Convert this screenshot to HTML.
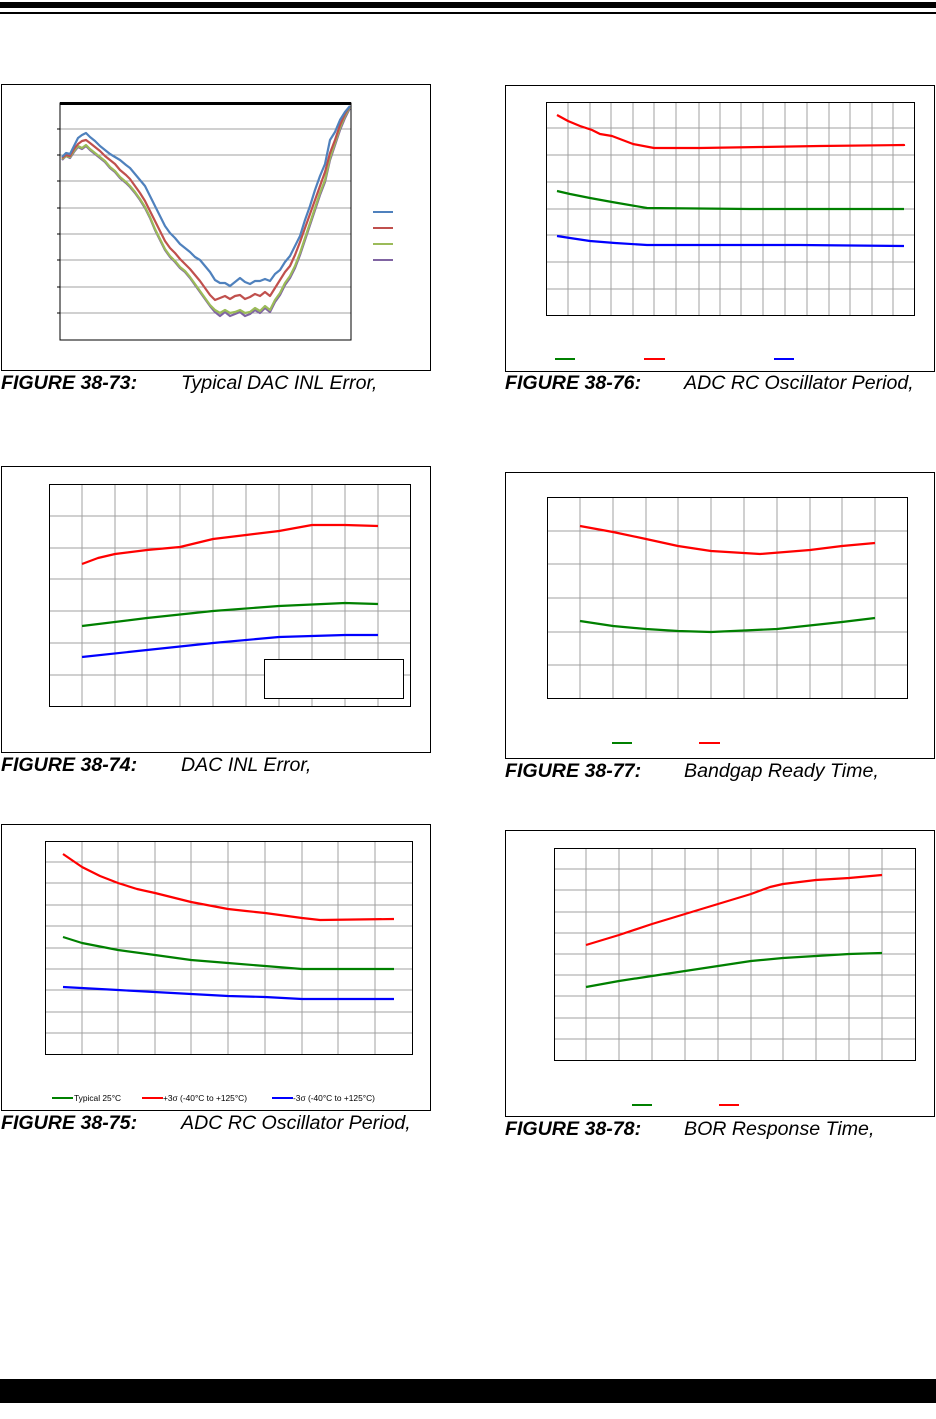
<!DOCTYPE html>
<html><head><meta charset="utf-8"><style>
html,body{margin:0;padding:0;background:#fff;}
svg{display:block;}
.cap{font-family:"Liberation Sans",Arial,sans-serif;font-size:19.6px;font-style:italic;}
.b{font-weight:bold;}
.g{stroke:#a0a0a0;stroke-width:1;}
.pl{fill:none;stroke-width:2.2;stroke-linejoin:round;}
</style></head><body>
<svg width="936" height="1419" viewBox="0 0 936 1419" xmlns="http://www.w3.org/2000/svg">
<rect x="0" y="2" width="936" height="6" fill="#000"/>
<rect x="0" y="12" width="936" height="2" fill="#000"/>
<rect x="0" y="1379" width="936" height="24" fill="#000"/>

<!-- Chart 73 -->
<rect x="1.5" y="84.5" width="429" height="286" fill="none" stroke="#000"/>
<g class="g"><line x1="60" x2="351" y1="129" y2="129"/><line x1="60" x2="351" y1="155" y2="155"/><line x1="60" x2="351" y1="181" y2="181"/><line x1="60" x2="351" y1="208" y2="208"/><line x1="60" x2="351" y1="234" y2="234"/><line x1="60" x2="351" y1="260" y2="260"/><line x1="60" x2="351" y1="287" y2="287"/><line x1="60" x2="351" y1="313" y2="313"/></g>
<rect x="60" y="103" width="291" height="237" fill="none" stroke="#000" stroke-width="1"/>
<rect x="60" y="102" width="291" height="3" fill="#000"/>
<g stroke="#000"><line x1="57" x2="60" y1="129" y2="129"/><line x1="57" x2="60" y1="155" y2="155"/><line x1="57" x2="60" y1="181" y2="181"/><line x1="57" x2="60" y1="208" y2="208"/><line x1="57" x2="60" y1="234" y2="234"/><line x1="57" x2="60" y1="260" y2="260"/><line x1="57" x2="60" y1="287" y2="287"/><line x1="57" x2="60" y1="313" y2="313"/></g>
<polyline class="pl" stroke="#8064a2" points="62,160 66,156 70,158 74,152 78,147 82,149 86,146 90,150 95,154 100,158 105,162 110,168 115,172 120,178 126,183 130,187 135,193 140,200 145,208 150,218 155,230 160,240 165,250 170,257 175,262 180,268 185,272 190,278 195,285 200,292 205,299 210,306 215,312 220,316 225,312 230,316 235,314 240,312 245,316 250,314 255,310 260,313 265,308 270,312 275,302 280,295 285,285 290,278 295,268 300,255 305,240 310,225 315,210 320,195 325,182 330,160 335,145 340,130 345,118 350,108"/>
<polyline class="pl" stroke="#9bbb59" points="62,159 66,156 70,157 74,151 78,146 82,148 86,145 90,149 95,153 100,157 105,161 110,167 115,171 120,177 126,182 130,186 135,192 140,199 145,207 150,217 155,229 160,239 165,249 170,256 175,261 180,267 185,271 190,277 195,284 200,291 205,298 210,305 215,310 220,313 225,310 230,313 235,312 240,310 245,313 250,312 255,308 260,311 265,306 270,310 275,300 280,293 285,283 290,276 295,266 300,253 305,238 310,223 315,208 320,193 325,180 330,158 335,143 340,128 345,116 350,107"/>
<polyline class="pl" stroke="#c0504d" points="62,158 66,155 70,156 74,149 78,144 82,141 86,140 90,143 95,147 100,151 105,156 110,160 115,164 120,170 126,175 130,179 135,186 140,193 145,201 150,211 155,221 160,231 165,241 170,248 175,253 180,259 185,264 190,269 195,275 200,281 205,288 210,295 215,300 220,298 225,296 230,299 235,296 240,295 245,299 250,297 255,294 260,296 265,292 270,296 275,288 280,280 285,272 290,266 295,255 300,242 305,228 310,214 315,200 320,186 325,172 330,153 335,140 340,125 345,114 350,106"/>
<polyline class="pl" stroke="#4f81bd" points="62,157 66,153 70,154 74,146 78,138 82,135 86,133 90,137 95,141 100,146 105,150 110,154 115,157 120,160 126,165 130,168 135,174 140,180 145,186 150,196 155,206 160,216 165,226 170,233 175,238 180,244 185,248 190,252 195,257 200,260 205,266 210,272 215,280 220,283 225,283 230,286 235,282 240,278 245,282 250,284 255,281 260,281 265,279 270,281 275,274 280,270 285,262 290,256 295,246 300,236 305,220 310,206 315,190 320,176 325,164 330,140 335,132 340,120 345,112 350,106"/>
<line x1="373" x2="393" y1="212" y2="212" stroke="#4f81bd" stroke-width="2"/>
<line x1="373" x2="393" y1="228" y2="228" stroke="#c0504d" stroke-width="2"/>
<line x1="373" x2="393" y1="244" y2="244" stroke="#9bbb59" stroke-width="2"/>
<line x1="373" x2="393" y1="260" y2="260" stroke="#8064a2" stroke-width="2"/>
<text class="cap" x="1" y="389"><tspan class="b">FIGURE 38-73:</tspan><tspan x="181">Typical DAC INL Error,</tspan></text>

<!-- Chart 76 -->
<rect x="505.5" y="85.5" width="429" height="286" fill="none" stroke="#000"/>
<g class="g">
<line y1="102" y2="316" x1="568" x2="568"/><line y1="102" y2="316" x1="590" x2="590"/><line y1="102" y2="316" x1="611" x2="611"/><line y1="102" y2="316" x1="633" x2="633"/><line y1="102" y2="316" x1="654" x2="654"/><line y1="102" y2="316" x1="676" x2="676"/><line y1="102" y2="316" x1="699" x2="699"/><line y1="102" y2="316" x1="720" x2="720"/><line y1="102" y2="316" x1="741" x2="741"/><line y1="102" y2="316" x1="763" x2="763"/><line y1="102" y2="316" x1="785" x2="785"/><line y1="102" y2="316" x1="807" x2="807"/><line y1="102" y2="316" x1="829" x2="829"/><line y1="102" y2="316" x1="850" x2="850"/><line y1="102" y2="316" x1="872" x2="872"/><line y1="102" y2="316" x1="893" x2="893"/>
<line x1="546" x2="915" y1="128" y2="128"/><line x1="546" x2="915" y1="155" y2="155"/><line x1="546" x2="915" y1="182" y2="182"/><line x1="546" x2="915" y1="209" y2="209"/><line x1="546" x2="915" y1="235" y2="235"/><line x1="546" x2="915" y1="262" y2="262"/><line x1="546" x2="915" y1="289" y2="289"/>
</g>
<rect x="546.5" y="102.5" width="368" height="213" fill="none" stroke="#000"/>
<polyline class="pl" stroke="#f00" points="557,115 568,121 580,126 592,130 600,134 612,136 633,144 654,148 700,148 760,147 820,146 904,145 904,146"/>
<polyline class="pl" stroke="#008000" points="557,191 570,194 590,198 612,202 647,208 750,209 904,209"/>
<polyline class="pl" stroke="#00f" points="557,236 570,238 590,241 615,243 647,245 800,245 904,246"/>
<line x1="555" x2="575" y1="359" y2="359" stroke="#008000" stroke-width="2"/>
<line x1="644" x2="665" y1="359" y2="359" stroke="#f00" stroke-width="2"/>
<line x1="774" x2="794" y1="359" y2="359" stroke="#00f" stroke-width="2"/>
<text class="cap" x="505" y="389"><tspan class="b">FIGURE 38-76:</tspan><tspan x="684">ADC RC Oscillator Period,</tspan></text>

<!-- Chart 74 -->
<rect x="1.5" y="466.5" width="429" height="286" fill="none" stroke="#000"/>
<g class="g">
<line y1="484" y2="706" x1="82" x2="82"/><line y1="484" y2="706" x1="115" x2="115"/><line y1="484" y2="706" x1="147" x2="147"/><line y1="484" y2="706" x1="180" x2="180"/><line y1="484" y2="706" x1="213" x2="213"/><line y1="484" y2="706" x1="246" x2="246"/><line y1="484" y2="706" x1="279" x2="279"/><line y1="484" y2="706" x1="312" x2="312"/><line y1="484" y2="706" x1="345" x2="345"/><line y1="484" y2="706" x1="378" x2="378"/>
<line x1="49" x2="410" y1="516" y2="516"/><line x1="49" x2="410" y1="548" y2="548"/><line x1="49" x2="410" y1="579" y2="579"/><line x1="49" x2="410" y1="611" y2="611"/><line x1="49" x2="410" y1="643" y2="643"/><line x1="49" x2="410" y1="675" y2="675"/>
</g>
<rect x="49.5" y="484.5" width="361" height="222" fill="none" stroke="#000"/>
<polyline class="pl" stroke="#f00" points="82,564 98,558 115,554 147,550 180,547 213,539 246,535 279,531 312,525 345,525 378,526"/>
<polyline class="pl" stroke="#008000" points="82,626 147,618 213,611 279,606 345,603 378,604"/>
<polyline class="pl" stroke="#00f" points="82,657 147,650 213,643 279,637 345,635 378,635"/>
<rect x="264.5" y="659.5" width="139" height="39" fill="#fff" stroke="#000"/>
<text class="cap" x="1" y="771"><tspan class="b">FIGURE 38-74:</tspan><tspan x="181">DAC INL Error,</tspan></text>

<!-- Chart 77 -->
<rect x="505.5" y="472.5" width="429" height="286" fill="none" stroke="#000"/>
<g class="g">
<line y1="497" y2="699" x1="580" x2="580"/><line y1="497" y2="699" x1="613" x2="613"/><line y1="497" y2="699" x1="646" x2="646"/><line y1="497" y2="699" x1="678" x2="678"/><line y1="497" y2="699" x1="711" x2="711"/><line y1="497" y2="699" x1="744" x2="744"/><line y1="497" y2="699" x1="777" x2="777"/><line y1="497" y2="699" x1="810" x2="810"/><line y1="497" y2="699" x1="842" x2="842"/><line y1="497" y2="699" x1="875" x2="875"/>
<line x1="548" x2="907" y1="531" y2="531"/><line x1="548" x2="907" y1="564" y2="564"/><line x1="548" x2="907" y1="598" y2="598"/><line x1="548" x2="907" y1="632" y2="632"/><line x1="548" x2="907" y1="665" y2="665"/>
</g>
<rect x="547.5" y="497.5" width="360" height="201" fill="none" stroke="#000"/>
<polyline class="pl" stroke="#f00" points="580,526 613,532 646,539 678,546 711,551 760,554 810,550 842,546 875,543"/>
<polyline class="pl" stroke="#008000" points="580,621 613,626 646,629 678,631 711,632 777,629 842,622 875,618"/>
<line x1="612" x2="632" y1="743" y2="743" stroke="#008000" stroke-width="2"/>
<line x1="699" x2="720" y1="743" y2="743" stroke="#f00" stroke-width="2"/>
<text class="cap" x="505" y="777"><tspan class="b">FIGURE 38-77:</tspan><tspan x="684">Bandgap Ready Time,</tspan></text>

<!-- Chart 75 -->
<rect x="1.5" y="824.5" width="429" height="286" fill="none" stroke="#000"/>
<g class="g">
<line y1="841" y2="1055" x1="82" x2="82"/><line y1="841" y2="1055" x1="118" x2="118"/><line y1="841" y2="1055" x1="155" x2="155"/><line y1="841" y2="1055" x1="191" x2="191"/><line y1="841" y2="1055" x1="228" x2="228"/><line y1="841" y2="1055" x1="265" x2="265"/><line y1="841" y2="1055" x1="302" x2="302"/><line y1="841" y2="1055" x1="338" x2="338"/><line y1="841" y2="1055" x1="375" x2="375"/>
<line x1="45" x2="412" y1="862" y2="862"/><line x1="45" x2="412" y1="883" y2="883"/><line x1="45" x2="412" y1="905" y2="905"/><line x1="45" x2="412" y1="926" y2="926"/><line x1="45" x2="412" y1="948" y2="948"/><line x1="45" x2="412" y1="969" y2="969"/><line x1="45" x2="412" y1="990" y2="990"/><line x1="45" x2="412" y1="1012" y2="1012"/><line x1="45" x2="412" y1="1033" y2="1033"/>
</g>
<rect x="45.5" y="841.5" width="367" height="213" fill="none" stroke="#000"/>
<polyline class="pl" stroke="#f00" points="63,854 82,867 100,876 118,883 137,889 155,893 191,902 228,909 246,911 265,913 302,918 320,920 394,919"/>
<polyline class="pl" stroke="#008000" points="63,937 82,943 118,950 155,955 191,960 228,963 265,966 302,969 394,969"/>
<polyline class="pl" stroke="#00f" points="63,987 118,990 191,994 228,996 265,997 302,999 394,999"/>
<g font-family="Liberation Sans,Arial,sans-serif" font-size="8.4" fill="#000">
<line x1="52" x2="73" y1="1098" y2="1098" stroke="#008000" stroke-width="2"/><text x="74" y="1101">Typical 25°C</text>
<line x1="142" x2="163" y1="1098" y2="1098" stroke="#f00" stroke-width="2"/><text x="163" y="1101">+3σ (-40°C to +125°C)</text>
<line x1="272" x2="293" y1="1098" y2="1098" stroke="#00f" stroke-width="2"/><text x="293" y="1101">-3σ (-40°C to +125°C)</text>
</g>
<text class="cap" x="1" y="1129"><tspan class="b">FIGURE 38-75:</tspan><tspan x="181">ADC RC Oscillator Period,</tspan></text>

<!-- Chart 78 -->
<rect x="505.5" y="830.5" width="429" height="286" fill="none" stroke="#000"/>
<g class="g">
<line y1="848" y2="1060" x1="586" x2="586"/><line y1="848" y2="1060" x1="619" x2="619"/><line y1="848" y2="1060" x1="652" x2="652"/><line y1="848" y2="1060" x1="685" x2="685"/><line y1="848" y2="1060" x1="718" x2="718"/><line y1="848" y2="1060" x1="751" x2="751"/><line y1="848" y2="1060" x1="783" x2="783"/><line y1="848" y2="1060" x1="816" x2="816"/><line y1="848" y2="1060" x1="849" x2="849"/><line y1="848" y2="1060" x1="882" x2="882"/>
<line x1="554" x2="915" y1="869" y2="869"/><line x1="554" x2="915" y1="890" y2="890"/><line x1="554" x2="915" y1="912" y2="912"/><line x1="554" x2="915" y1="933" y2="933"/><line x1="554" x2="915" y1="954" y2="954"/><line x1="554" x2="915" y1="975" y2="975"/><line x1="554" x2="915" y1="996" y2="996"/><line x1="554" x2="915" y1="1018" y2="1018"/><line x1="554" x2="915" y1="1039" y2="1039"/>
</g>
<rect x="554.5" y="848.5" width="361" height="212" fill="none" stroke="#000"/>
<polyline class="pl" stroke="#f00" points="586,945 619,935 652,924 685,914 718,904 751,894 770,887 783,884 816,880 849,878 882,875"/>
<polyline class="pl" stroke="#008000" points="586,987 619,981 652,976 685,971 718,966 751,961 783,958 816,956 849,954 882,953"/>
<line x1="632" x2="652" y1="1105" y2="1105" stroke="#008000" stroke-width="2"/>
<line x1="719" x2="739" y1="1105" y2="1105" stroke="#f00" stroke-width="2"/>
<text class="cap" x="505" y="1135"><tspan class="b">FIGURE 38-78:</tspan><tspan x="684">BOR Response Time,</tspan></text>
</svg>
</body></html>
